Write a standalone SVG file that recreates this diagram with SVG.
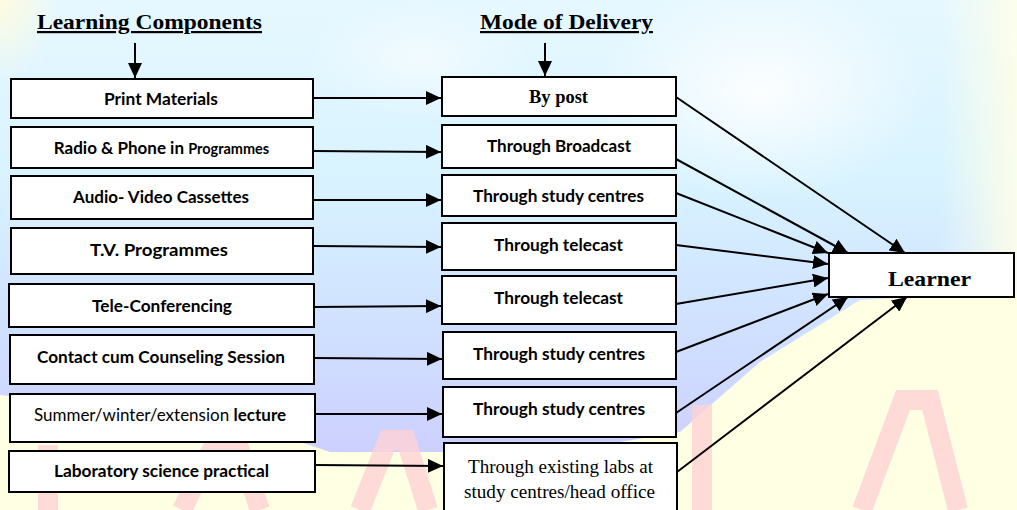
<svg xmlns="http://www.w3.org/2000/svg" width="1017" height="510" viewBox="0 0 1017 510">
<defs>
<linearGradient id="sky" x1="0" y1="0" x2="0" y2="1">
<stop offset="0" stop-color="#E6F8FF"/>
<stop offset="0.4" stop-color="#D8F3FF"/>
<stop offset="0.7" stop-color="#D0E2FF"/>
<stop offset="1" stop-color="#CDD0FF"/>
</linearGradient>
<linearGradient id="fadeR" x1="0" y1="0" x2="1" y2="0">
<stop offset="0" stop-color="#FFFFE8" stop-opacity="0"/>
<stop offset="1" stop-color="#FFFFE8" stop-opacity="0.9"/>
</linearGradient>
<radialGradient id="cornerTL" cx="0" cy="0" r="1">
<stop offset="0" stop-color="#FFFBE0"/>
<stop offset="1" stop-color="#FFFBE0" stop-opacity="0"/>
</radialGradient>
<radialGradient id="whiteGlow" cx="0.5" cy="0.5" r="0.5">
<stop offset="0" stop-color="#FFFFFF" stop-opacity="0.9"/>
<stop offset="1" stop-color="#FFFFFF" stop-opacity="0"/>
</radialGradient>
<marker id="ah" viewBox="0 0 15 14" refX="15" refY="7" markerWidth="15" markerHeight="14" markerUnits="userSpaceOnUse" orient="auto">
<path d="M0,0 L15,7 L0,14 Z" fill="#000"/>
</marker>
</defs>
<style>
.box{fill:#fff;stroke:#000;stroke-width:2}
.cal{font-family:Lato,"Open Sans","Liberation Sans",sans-serif;font-weight:bold;font-size:17px;fill:#000;text-anchor:middle}
.tim{font-family:"Liberation Serif","Times New Roman",serif;fill:#000;text-anchor:middle}
.timb{font-family:"Liberation Serif","Times New Roman",serif;font-weight:bold;fill:#000;text-anchor:middle}
.hdr{font-size:22px;text-decoration:underline}
.conn line{stroke:#000;stroke-width:2;fill:none;marker-end:url(#ah)}
.pink{fill:none;stroke:#FFD2D4;stroke-width:20;stroke-linecap:butt;opacity:0.8}
</style>

<g id="background">
<rect x="0" y="0" width="1017" height="510" fill="#FFFFE3"/>
<path d="M0,0 H1017 V292 L860,300 L760,362 L680,432 L560,452 L330,452 L250,425 L0,395 Z" fill="url(#sky)"/>
<ellipse cx="760" cy="90" rx="170" ry="110" fill="url(#whiteGlow)"/>
<ellipse cx="420" cy="60" rx="120" ry="60" fill="url(#whiteGlow)" opacity="0.6"/>
<rect x="940" y="0" width="77" height="292" fill="url(#fadeR)"/>
<rect x="0" y="0" width="60" height="80" fill="url(#cornerTL)"/>
<path class="pink" d="M48,445 V510"/>
<path class="pink" d="M182,510 L214,445 L238,445 L260,510"/>
<path class="pink" d="M360,510 L388,440 L406,440 L428,510"/>
<path class="pink" d="M702,405 V510"/>
<path class="pink" d="M862,510 L903,400 L930,400 L958,510"/>
</g>

<g id="header-learning">
<text class="timb hdr" x="149.5" y="29" textLength="225" lengthAdjust="spacingAndGlyphs">Learning Components</text>
</g>
<g id="header-delivery">
<text class="timb hdr" x="566.5" y="29" textLength="173" lengthAdjust="spacingAndGlyphs">Mode of Delivery</text>
</g>

<g id="lc1"><rect class="box" x="11" y="79" width="302" height="39"/><text class="cal" x="161" y="105" textLength="114" lengthAdjust="spacingAndGlyphs">Print Materials</text></g>
<g id="lc2"><rect class="box" x="11" y="127" width="302" height="41"/><text class="cal" x="161.5" y="154">Radio &amp; Phone in <tspan font-size="14.5px">Programmes</tspan></text></g>
<g id="lc3"><rect class="box" x="11" y="176" width="302" height="43"/><text class="cal" x="161" y="203" textLength="176" lengthAdjust="spacingAndGlyphs">Audio- Video Cassettes</text></g>
<g id="lc4"><rect class="box" x="11" y="228" width="302" height="46"/><text class="cal" x="159" y="256" textLength="138" lengthAdjust="spacingAndGlyphs">T.V. Programmes</text></g>
<g id="lc5"><rect class="box" x="9" y="284" width="305" height="43"/><text class="cal" x="162" y="312" textLength="140" lengthAdjust="spacingAndGlyphs">Tele-Conferencing</text></g>
<g id="lc6"><rect class="box" x="10" y="335" width="304" height="49"/><text class="cal" x="161" y="363" textLength="248" lengthAdjust="spacingAndGlyphs">Contact cum Counseling Session</text></g>
<g id="lc7"><rect class="box" x="10" y="394" width="305" height="48"/><text class="cal" x="160" y="421"><tspan font-weight="normal">Summer/winter/extension </tspan>lecture</text></g>
<g id="lc8"><rect class="box" x="9" y="451" width="306" height="41"/><text class="cal" x="161.5" y="477" textLength="215" lengthAdjust="spacingAndGlyphs">Laboratory science practical</text></g>

<g id="md1"><rect class="box" x="442" y="77" width="234" height="39"/><text class="timb" x="558.5" y="103" font-size="18.5px" textLength="59" lengthAdjust="spacingAndGlyphs">By post</text></g>
<g id="md2"><rect class="box" x="442" y="125" width="234" height="43"/><text class="cal" x="559" y="152" textLength="144" lengthAdjust="spacingAndGlyphs">Through Broadcast</text></g>
<g id="md3"><rect class="box" x="442" y="175" width="234" height="41"/><text class="cal" x="558.5" y="202" textLength="171" lengthAdjust="spacingAndGlyphs">Through study centres</text></g>
<g id="md4"><rect class="box" x="442" y="223" width="234" height="47"/><text class="cal" x="558.5" y="251" textLength="129" lengthAdjust="spacingAndGlyphs">Through telecast</text></g>
<g id="md5"><rect class="box" x="442" y="276" width="234" height="48"/><text class="cal" x="558.5" y="304" textLength="129" lengthAdjust="spacingAndGlyphs">Through telecast</text></g>
<g id="md6"><rect class="box" x="443" y="332" width="233" height="47"/><text class="cal" x="559" y="360" textLength="172" lengthAdjust="spacingAndGlyphs">Through study centres</text></g>
<g id="md7"><rect class="box" x="443" y="387" width="233" height="50"/><text class="cal" x="559" y="415" textLength="172" lengthAdjust="spacingAndGlyphs">Through study centres</text></g>
<g id="md8"><rect class="box" x="444" y="443" width="233" height="80"/>
<text class="tim" font-size="19px"><tspan x="560.5" y="473" textLength="185" lengthAdjust="spacingAndGlyphs">Through existing labs at</tspan><tspan x="559.5" y="498" textLength="191" lengthAdjust="spacingAndGlyphs">study centres/head office</tspan></text></g>

<g id="learner"><rect class="box" x="829" y="253" width="185" height="44"/><text class="timb" x="929.5" y="286" font-size="22px" textLength="83" lengthAdjust="spacingAndGlyphs">Learner</text></g>

<g id="connectors" class="conn">
<line x1="135" y1="43" x2="135" y2="78"/>
<line x1="545" y1="43" x2="545" y2="76"/>
<line x1="313" y1="98" x2="441" y2="98"/>
<line x1="313" y1="151" x2="441" y2="152"/>
<line x1="313" y1="200" x2="441" y2="200"/>
<line x1="313" y1="246" x2="441" y2="247"/>
<line x1="314" y1="307" x2="441" y2="306"/>
<line x1="314" y1="358" x2="442" y2="359"/>
<line x1="315" y1="414" x2="442" y2="414"/>
<line x1="315" y1="465" x2="443" y2="466"/>
<line x1="676" y1="97" x2="905" y2="253"/>
<line x1="676" y1="159" x2="848" y2="253"/>
<line x1="676" y1="193" x2="828" y2="253"/>
<line x1="676" y1="245" x2="828" y2="264"/>
<line x1="676" y1="304" x2="828" y2="278"/>
<line x1="676" y1="352" x2="828" y2="294"/>
<line x1="676" y1="413" x2="848" y2="297"/>
<line x1="677" y1="472" x2="907" y2="297"/>
</g>
</svg>
